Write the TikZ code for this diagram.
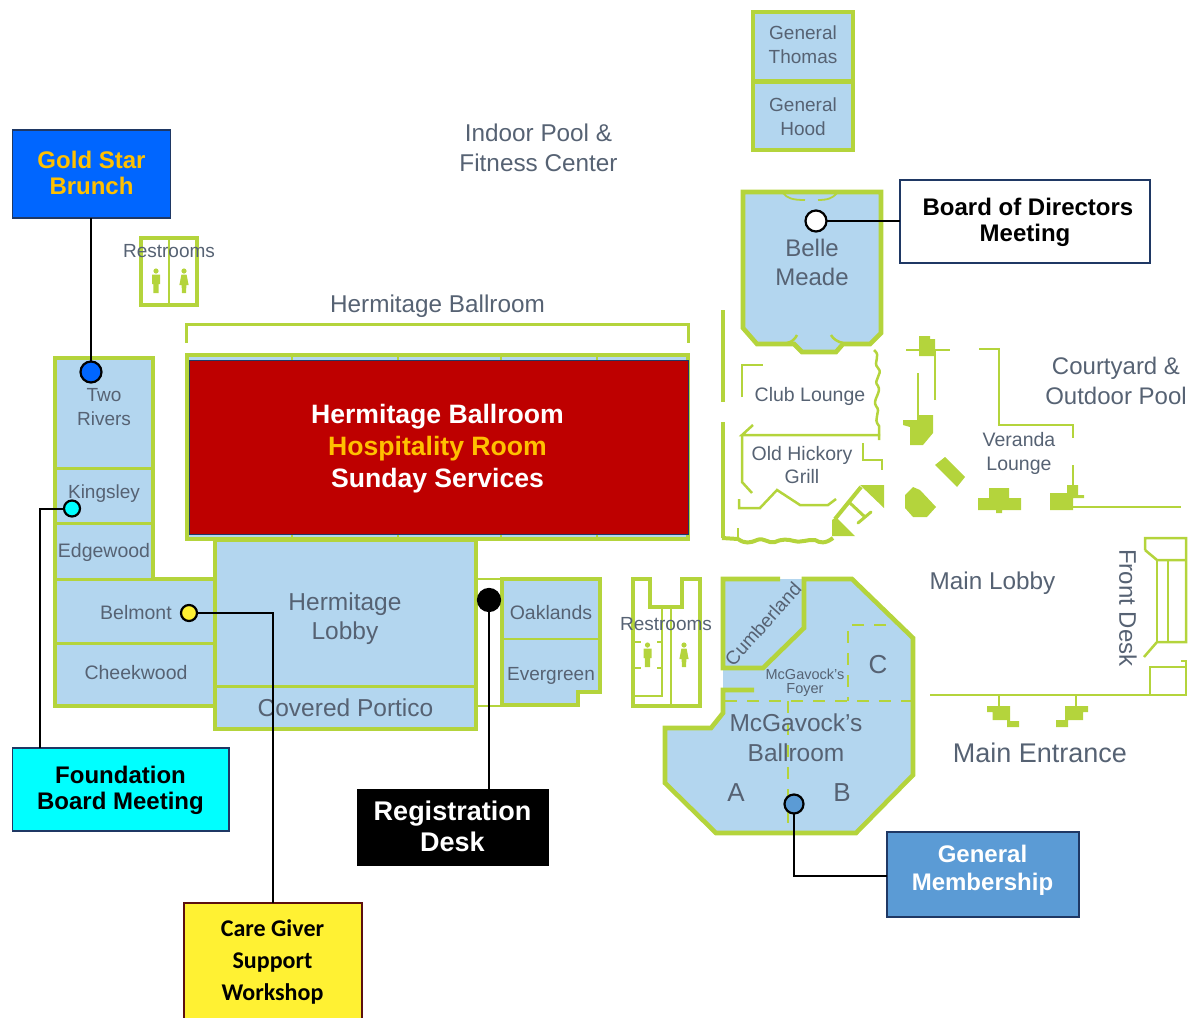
\documentclass[tikz,border=0pt]{standalone}
\usepackage{fontspec}
\setmainfont{Liberation Sans}
\newfontfamily\carlitofont{Carlito}
\definecolor{wallgreen}{HTML}{B4D43C}
\definecolor{roomblue}{HTML}{B3D6EF}
\definecolor{labelgray}{HTML}{566273}
\definecolor{roomred}{HTML}{BE0000}
\definecolor{goldtext}{HTML}{FFC000}
\definecolor{starblue}{HTML}{0066FF}
\definecolor{careyellow}{HTML}{FFF133}
\definecolor{memberblue}{HTML}{5B9BD5}
\definecolor{aqua}{HTML}{00FFFF}
\definecolor{navyline}{HTML}{1F3864}
\definecolor{careline}{HTML}{5C1010}
\newcommand{\fs}[1]{\fontsize{#1}{#1}\selectfont}
\tikzset{
  room/.style={draw=wallgreen,fill=roomblue,line width=4.6pt,line join=miter},
  wall/.style={draw=wallgreen,line width=4pt},
  thinwall/.style={draw=wallgreen,line width=2.5pt},
  divider/.style={draw=wallgreen,line width=3pt},
  dashwall/.style={draw=wallgreen,line width=2.5pt,dash pattern=on 12pt off 10pt},
  solidwall/.style={fill=wallgreen,draw=none},
  lbl/.style={text=labelgray,inner sep=0pt,align=center},
  callout/.style={draw,line width=1.3pt,align=center,inner sep=0pt,outer sep=0pt},
  calltext/.style={inner sep=0pt,align=center},
  dot/.style={circle,draw=black,line width=2.2pt,inner sep=0pt,outer sep=0pt},
  lead/.style={draw=black,line width=2pt},
  person/.style={fill=wallgreen,draw=none}
}
\newcommand{\manicon}[2]{%
  \fill[person] (#1,#2-10) circle (2.6);
  \fill[person] (#1-4,#2-6.5) -- (#1+4,#2-6.5) -- (#1+4,#2+3) -- (#1+2.6,#2+3) -- (#1+2.6,#2+12) -- (#1-2.6,#2+12) -- (#1-2.6,#2+3) -- (#1-4,#2+3) -- cycle;}
\newcommand{\womanicon}[2]{%
  \fill[person] (#1,#2-10) circle (2.6);
  \fill[person] (#1-2.6,#2-6.5) -- (#1+2.6,#2-6.5) -- (#1+4.6,#2+4) -- (#1+2.4,#2+4) -- (#1+2,#2+12) -- (#1-2,#2+12) -- (#1-2.4,#2+4) -- (#1-4.6,#2+4) -- cycle;}
\begin{document}
\begin{tikzpicture}[x=1pt,y=-1pt]
\useasboundingbox (0,0) rectangle (1195,1018);

% --- General rooms
\draw[room] (753,12) rectangle (853,150);
\draw[wall,line width=5pt] (753,81) -- (853,81);

% --- Belle Meade
\draw[room] (743,192) -- (881,192) -- (881,333) -- (870,344) -- (843,344) -- (836,352) -- (802,352) -- (794,344) -- (757,344) -- (743,328) -- cycle;
\draw[thinwall] (787,343) .. controls (792,342) and (795,339) .. (797,335);
\draw[thinwall] (843,343) .. controls (838,342) and (833,339) .. (831,335);
\draw[thinwall,line width=1.8pt] (783,193) .. controls (787,198) and (792,200) .. (805,200);
\draw[thinwall,line width=1.8pt] (837,193) .. controls (833,198) and (828,200) .. (818,200);

% --- Small restrooms top left
\draw[wall,line width=4.6pt] (141,238) rectangle (197,305);
\draw[thinwall] (169,238) -- (169,305);
\manicon{156}{281}
\womanicon{184}{281}

% --- Hermitage ballroom bracket and body
\draw[divider] (186,343) -- (186,324) -- (688,324) -- (688,343);
\draw[room] (187,355) rectangle (688,539);
\foreach \dx in {292,398,501,597}{\draw[thinwall] (\dx,354) -- (\dx,360); \draw[thinwall] (\dx,534) -- (\dx,540);}

% --- Left wing
\draw[room] (55,358) -- (153,358) -- (153,579) -- (216,579) -- (216,706) -- (55,706) -- cycle;
\draw[divider] (55,468) -- (153,468);
\draw[divider] (55,523) -- (153,523);
\draw[divider] (55,579) -- (153,579);
\draw[divider] (55,643) -- (216,643);

% --- Lobby
\draw[room] (215,540) -- (476,540) -- (476,729) -- (215,729) -- cycle;
\draw[divider] (215,686) -- (476,686);
\draw[thinwall,line width=1.5pt] (476,579) -- (502,579);
\draw[thinwall,line width=1.5pt] (476,706) -- (502,706);

% --- Oaklands / Evergreen
\draw[room] (502,579) -- (600,579) -- (600,692) -- (578,692) -- (578,705) -- (502,705) -- cycle;
\draw[divider,line width=2.5pt] (502,639) -- (600,639);

% --- Restrooms centre
\draw[wall,line width=4.6pt] (633,579) -- (650,579) -- (650,607) -- (682,607) -- (682,579) -- (700,579) -- (700,706) -- (633,706) -- cycle;
\draw[thinwall,line width=2pt] (662,607) -- (662,696) -- (633,696);
\draw[thinwall] (671,607) -- (671,706);
\foreach \ty in {642,668}{\draw[thinwall,line width=2pt] (635,\ty) -- (641,\ty); \draw[thinwall,line width=2pt] (657,\ty) -- (662,\ty);}
\manicon{647.5}{655}
\womanicon{684}{655}

% --- McGavock's
\fill[roomblue] (723,579) -- (852,579) -- (913,638) -- (913,775) -- (856,833) -- (716,833) -- (665,783) -- (665,728) -- (711,728) -- (723,713) -- cycle;
\draw[wall,line width=4.6pt] (780,579) -- (723,579) -- (723,668) -- (763,668) -- (804,628) -- (804,579) -- (852,579) -- (913,638) -- (913,775) -- (856,833) -- (716,833) -- (665,783) -- (665,728) -- (711,728) -- (723,713) -- (723,690) -- (754,690);
\draw[dashwall] (886,625) -- (848,625) -- (848,701);
\draw[dashwall] (725,701) -- (913,701);
\draw[dashwall] (788,701) -- (788,833);

% --- Club lounge and grill
\draw[wall] (723,310) -- (723,402);
\draw[wall] (723,422) -- (723,538);
\draw[wall] (722,538) -- (738,539) .. controls (745,544) and (750,543) .. (757,540)
  .. controls (764,537) and (768,544) .. (775,542) .. controls (782,539) and (787,539) .. (794,541)
  .. controls (802,543) and (808,539) .. (815,540) .. controls (820,543) and (825,544) .. (833,538);
\draw[thinwall] (738,528) -- (738,538);
\draw[thinwall] (742,397) -- (742,365) -- (763,365);
\draw[thinwall] (874,350) .. controls (882,356) and (872,362) .. (878,368)
  .. controls (884,374) and (872,380) .. (878,386) .. controls (882,392) and (872,400) .. (876,406)
  .. controls (882,412) and (872,418) .. (879,426) -- (879,440);
\draw[thinwall] (753,425) -- (742,435) -- (880,435);
\draw[thinwall] (742,435) -- (742,482) -- (752,493);
\draw[thinwall] (739,499) -- (739,508) -- (760,508) -- (777,490) -- (800,505) -- (828,505) -- (836,499);
\draw[thinwall] (863,443) -- (863,460) -- (882,460) -- (882,470);
\fill[solidwall] (860,485) -- (884,485) -- (884,508) -- cycle;
\draw[wall] (835,519) -- (861,487);
\fill[solidwall] (832,520) -- (836,517) -- (855,536) -- (832,536) -- cycle;
\draw[thinwall,line width=3pt] (850,503) -- (865,517);
\draw[thinwall,line width=3pt,line cap=round] (858,523) -- (871,512);

% --- Veranda structure
\draw[thinwall] (906,350) -- (950,350);
\fill[solidwall] (919,336) -- (930,336) -- (930,339) -- (935,339) -- (935,356) -- (919,356) -- cycle;
\draw[thinwall] (935,350) -- (935,400);
\draw[thinwall] (918,373) -- (918,420);
\fill[solidwall] (903,420) -- (917,420) -- (917,415) -- (933,415) -- (933,433) -- (923,445) -- (910,445) -- (910,427) -- (903,425) -- cycle;
\draw[thinwall] (979,349) -- (999,349) -- (999,425) -- (1073,425) -- (1073,438);
\draw[thinwall] (1073,465) -- (1073,485);
\fill[solidwall] (1050,493) -- (1067,493) -- (1067,485) -- (1078,485) -- (1078,495) -- (1084,495) -- (1084,498) -- (1073,498) -- (1073,510) -- (1050,510) -- cycle;
\draw[thinwall] (1073,507) -- (1181,507);
\fill[solidwall] (978,498) -- (989,498) -- (989,488) -- (1009,488) -- (1009,498) -- (1021,498) -- (1021,510) -- (1002,510) -- (1002,513) -- (996,513) -- (996,510) -- (978,510) -- cycle;
\fill[solidwall] (935,465) -- (945,457) -- (965,477) -- (957,487) -- cycle;
\fill[solidwall] (905,495) -- (913,487) -- (920,490) -- (936,507) -- (927,517) -- (913,517) -- (905,508) -- cycle;

% --- Main entrance and front desk
\draw[thinwall] (930,695) -- (1187,695);
\draw[thinwall] (999,695) -- (999,707);
\draw[thinwall] (1076,695) -- (1076,707);
\fill[solidwall] (987,706) -- (1010,706) -- (1010,721) -- (1019,721) -- (1019,727) -- (1007,727) -- (1007,720) -- (992.5,720) -- (992.5,712) -- (987,712) -- cycle;
\fill[solidwall] (1088,706) -- (1065,706) -- (1065,720) -- (1056,720) -- (1056,727) -- (1068,727) -- (1068,720) -- (1083,720) -- (1083,712) -- (1088,712) -- cycle;
\draw[thinwall] (1145,550) -- (1145,538) -- (1186,538) -- (1186,642) -- (1157,642) -- (1144,657);
\draw[thinwall] (1145,550) -- (1157,560) -- (1186,560);
\draw[thinwall] (1157,560) -- (1157,642);
\draw[thinwall] (1168,560) -- (1168,642);
\draw[thinwall] (1150,695) -- (1150,667) -- (1186,667) -- (1186,695);
\draw[thinwall] (1181,661) -- (1186,661) -- (1186,667);

% --- Plan labels
\node[lbl,font=\fs{19}] (gthomas) at (803,45) {General\\[5pt]Thomas};
\node[lbl,font=\fs{19}] (ghood) at (803,117) {General\\[5pt]Hood};
\node[lbl,font=\fs{24.3}] (pool) at (538.5,148) {Indoor Pool \&\\[6pt]Fitness Center};
\node[lbl,font=\fs{19}] (rest1) at (169,251) {Restrooms};
\node[lbl,font=\fs{24.3}] (hball) at (437.5,306) {Hermitage Ballroom};
\node[lbl,font=\fs{24}] (belle) at (812,262.5) {Belle\\[5pt]Meade};
\node[lbl,font=\fs{19}] (rivers) at (104,407) {Two\\[5pt]Rivers};
\node[lbl,font=\fs{19}] (kings) at (104,494) {Kingsley};
\node[lbl,font=\fs{19.5}] (edge) at (104,552) {Edgewood};
\node[lbl,font=\fs{19.5}] (belm) at (136,613) {Belmont};
\node[lbl,font=\fs{19.5}] (cheek) at (136,673) {Cheekwood};
\node[lbl,font=\fs{24.5}] (hlob) at (345,619) {Hermitage\\[4.5pt]Lobby};
\node[lbl,font=\fs{24.5}] (cport) at (345.5,708) {Covered Portico};
\node[lbl,font=\fs{19.5}] (oak) at (551,613) {Oaklands};
\node[lbl,font=\fs{19}] (ever) at (551,676) {Evergreen};
\node[lbl,font=\fs{19}] (rest2) at (666,624) {Restrooms};
\node[lbl,font=\fs{19.5}] (club) at (810,396) {Club Lounge};
\node[lbl,font=\fs{19.5}] (hick) at (802,465.5) {Old Hickory\\[3.5pt]Grill};
\node[lbl,font=\fs{24}] (court) at (1116,381) {Courtyard \&\\[6pt]Outdoor Pool};
\node[lbl,font=\fs{19.5}] (vera) at (1019,453) {Veranda\\[4.5pt]Lounge};
\node[lbl,font=\fs{24.3}] (mlob) at (992.5,583) {Main Lobby};
\node[lbl,font=\fs{24},rotate=-90] (fdesk) at (1128,608) {Front Desk};
\node[lbl,font=\fs{27}] (ment) at (1040,753) {Main Entrance};
\node[lbl,font=\fs{19},rotate=48] (cumb) at (763,624) {Cumberland};
\node[lbl,font=\fs{14.5}] (foyer) at (805,682.5) {McGavock's\\[0pt]Foyer};
\node[lbl,font=\fs{26}] (roomc) at (878,665) {C};
\node[lbl,font=\fs{24.5}] (mcg) at (796,738) {McGavock's\\[5.5pt]Ballroom};
\node[lbl,font=\fs{26}] (rooma) at (736,793) {A};
\node[lbl,font=\fs{26}] (roomb) at (842,793) {B};

% --- Red box
\node[draw=navyline,line width=1pt,fill=roomred,minimum width=499pt,minimum height=174pt,inner sep=0pt,outer sep=0pt,anchor=north west] (redbox) at (189,360) {};
\node[calltext,font=\bfseries\fs{26.6},text=white] (redlabel) at (437.5,449)
  {Hermitage Ballroom\\[5.5pt]\textcolor{goldtext}{Hospitality Room}\\[5.5pt]Sunday Services};

% --- Call-outs
\node[callout,anchor=north west,minimum width=158pt,minimum height=88pt,fill=starblue,draw=navyline] (gold) at (12.5,130) {};
\node[calltext,font=\bfseries\fs{24},text=goldtext] (goldlabel) at (91.5,172.5) {Gold Star\\[2pt]Brunch};
\node[callout,anchor=north west,minimum width=250pt,minimum height=83pt,fill=white,draw=navyline] (board) at (900,180) {};
\node[calltext,font=\bfseries\fs{24}] (boardlabel) at (1025,222.5) {\hspace*{6pt}Board of Directors\\[2pt]Meeting};
\node[callout,anchor=north west,minimum width=216.5pt,minimum height=83pt,fill=aqua,draw=navyline] (found) at (12.5,748) {};
\node[calltext,font=\bfseries\fs{24}] (foundlabel) at (120.5,790.5) {Foundation\\[2pt]Board Meeting};
\node[callout,anchor=north west,minimum width=191pt,minimum height=76pt,fill=black] (regist) at (357.5,789.5) {};
\node[calltext,font=\bfseries\fs{27},text=white] (registlabel) at (452.5,826.5) {Registration\\[4pt]Desk};
\node[callout,anchor=north west,minimum width=178pt,minimum height=120pt,fill=careyellow,draw=careline,line width=2pt] (care) at (184,903) {};
\node[calltext,font=\carlitofont\bfseries\fs{24}] (carelabel) at (272.5,962) {Care Giver\\[8pt]Support\\[8pt]Workshop};
\node[callout,anchor=north west,minimum width=192pt,minimum height=85pt,fill=memberblue,draw=navyline] (member) at (887,832) {};
\node[calltext,font=\bfseries\fs{24},text=white] (memberlabel) at (982.5,870) {General\\[4pt]Membership};

% --- Markers
\node[dot,fill=starblue,minimum size=21pt] (dgold) at (91,372) {};
\node[dot,fill=white,minimum size=21pt] (dboard) at (816,221) {};
\node[dot,fill=aqua,minimum size=16pt] (dfound) at (72,508.5) {};
\node[dot,fill=black,minimum size=22pt] (dreg) at (489,600) {};
\node[dot,fill=careyellow,minimum size=16pt] (dcare) at (189,613) {};
\node[dot,fill=memberblue,minimum size=19pt] (dmember) at (794,804) {};

% --- Connectors
\coordinate (jfound) at (40,748);
\coordinate (jreg) at (489,789);
\coordinate (jmember) at (794,876);
\draw[lead] (dgold) -- (gold.south -| dgold);
\draw[lead] (dboard) -- (board.west |- dboard);
\draw[lead] (dfound) -| (jfound);
\draw[lead] (dreg) -- (jreg);
\draw[lead] (dcare) -| (care.north);
\draw[lead] (dmember) -- (jmember) -- (member.west |- jmember);
\end{tikzpicture}
\end{document}
